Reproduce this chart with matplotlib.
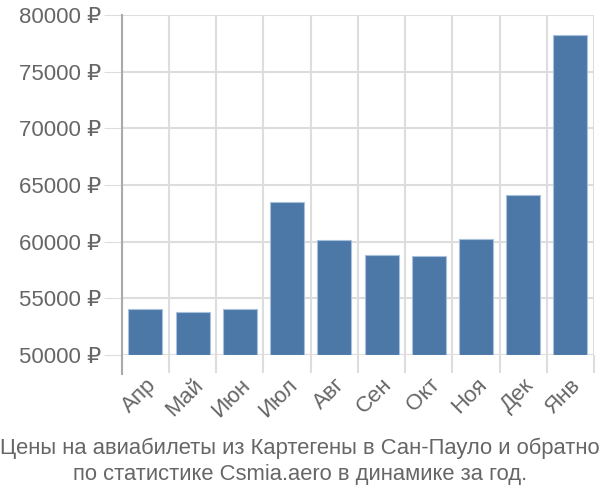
import numpy as np
import matplotlib
matplotlib.use("Agg")
import matplotlib.pyplot as plt

months = ['Апр', 'Май', 'Июн', 'Июл', 'Авг', 'Сен', 'Окт', 'Ноя', 'Дек', 'Янв']
prices = [54050, 53800, 54050, 63500, 60150, 58780, 58700, 60240, 64120, 78200]
yticks = [50000, 55000, 60000, 65000, 70000, 75000, 80000]
title = 'Цены на авиабилеты из Картегены в Сан-Пауло и обратно\nпо статистике Csmia.aero в динамике за год.'

plt.rcParams['font.family'] = ['Liberation Sans', 'DejaVu Sans']
grey = '#666666'
gridc = '#dddddd'

fig = plt.figure(figsize=(6, 5), dpi=100)
ax = fig.add_axes([0.203, 0.29, 0.787, 0.68])

x = np.arange(len(months))
base = 50000
ax.bar(x, [p - base for p in prices], bottom=base, width=0.72,
       color='#4C78A8', edgecolor='#a9c0da', linewidth=0.8, zorder=3)

ax.set_xlim(-0.5, len(months) - 0.5)
ax.set_ylim(50000, 80000)

ax.set_yticks(yticks)
ax.set_yticklabels([f'{t} ₽' for t in yticks])
ax.set_xticks(x)
ax.set_xticklabels(months, rotation=45, ha='right', rotation_mode='anchor')
ax.set_xticks(np.arange(-0.5, len(months)), minor=True)

ax.tick_params(axis='y', length=13, color=gridc, labelsize=16, labelcolor=grey, pad=2)
ax.tick_params(axis='x', which='major', length=0, labelsize=16, labelcolor=grey, pad=14)
ax.tick_params(axis='x', which='minor', length=13, color=gridc, width=1.5)

ax.grid(axis='y', color=gridc, linewidth=1.5, zorder=0)
ax.grid(axis='x', which='minor', color=gridc, linewidth=1.5, zorder=0)

for s in ['top', 'right', 'bottom']:
    ax.spines[s].set_visible(False)
ax.spines['left'].set_color('#aaaaaa')
ax.spines['left'].set_linewidth(1.5)
ax.spines['left'].set_bounds(48300, 80000)

fig.text(0.5, 0.077, title, ha='center', va='center', fontsize=15.8,
         color=grey, linespacing=1.3,
         family=['Liberation Sans Narrow', 'Liberation Sans', 'DejaVu Sans'])

fig.savefig('out.png')
